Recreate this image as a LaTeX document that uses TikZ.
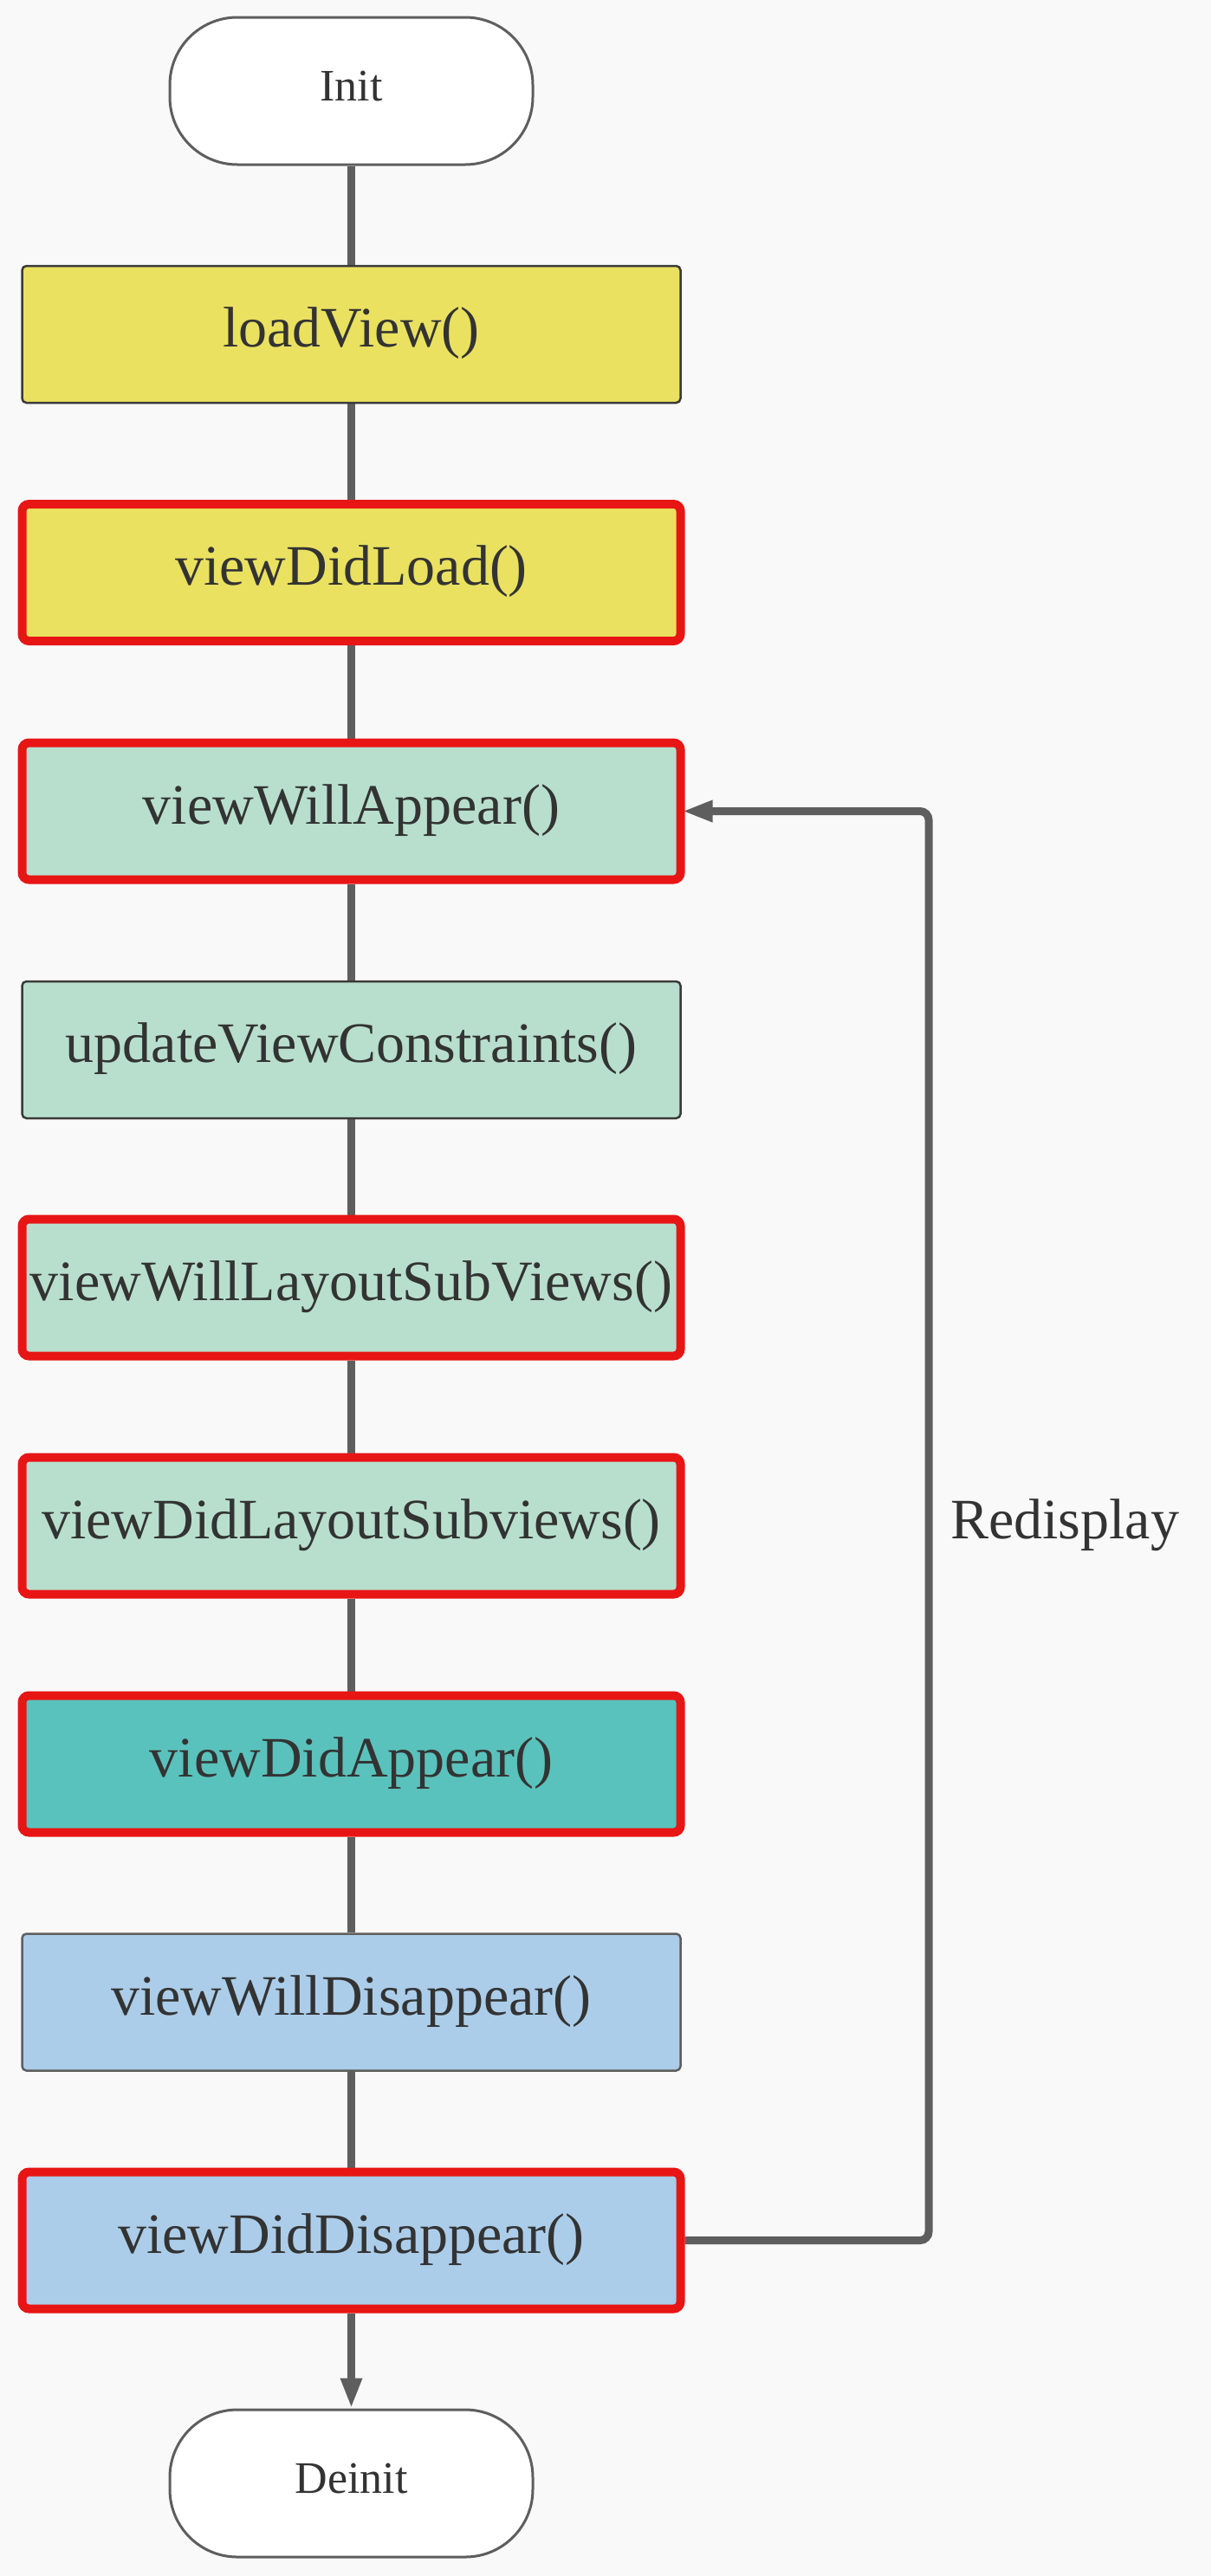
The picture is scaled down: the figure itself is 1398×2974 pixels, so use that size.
\documentclass[tikz,border=0pt]{standalone}
\usepackage{fontspec}
\setmainfont{Liberation Serif}
\usetikzlibrary{arrows.meta}
\pgfdeclarelayer{bgfill}
\pgfdeclarelayer{background}
\pgfsetlayers{bgfill,background,main}
\definecolor{bgc}{HTML}{F9F9F9}
\definecolor{linec}{HTML}{5E5E5E}
\definecolor{txtc}{HTML}{333333}
\definecolor{redc}{HTML}{E81515}
\definecolor{yellowc}{HTML}{EAE160}
\definecolor{greenc}{HTML}{B8DFCE}
\definecolor{tealc}{HTML}{5AC2BC}
\definecolor{bluec}{HTML}{ABCDE9}
\definecolor{thinc}{HTML}{3A3A3A}
\begin{document}
\begin{tikzpicture}[x=1pt,y=-1pt,
  terminal/.style={draw=linec, line width=3pt, fill=white, rounded corners=78pt,
    minimum width=419pt, minimum height=170pt, inner sep=0pt, text=txtc,
    font=\fontsize{52}{62}\selectfont, text height=34.3pt, text depth=11.4pt},
  stagebox/.style={minimum width=760pt, minimum height=158pt, inner sep=0pt, text=txtc,
    font=\fontsize{66}{79}\selectfont, text height=43.6pt, text depth=14.5pt},
  thinbox/.style={stagebox, draw=thinc, line width=2.5pt, rounded corners=5pt},
  redbox/.style={stagebox, draw=redc, line width=10pt, rounded corners=8pt},
  conn/.style={draw=linec, line width=9pt},
  tipc/.style={-{Triangle[length=35pt,width=23pt]}}
]
\begin{pgfonlayer}{bgfill}
  \fill[bgc] (0,0) rectangle (1398,2974);
\end{pgfonlayer}

\node[terminal] (init) at (405.5,105) {Init};
\node[thinbox, fill=yellowc] (lv) at (405.5,386) {loadView()};
\node[redbox, fill=yellowc] (vdl) at (405.5,661) {viewDidLoad()};
\node[redbox, fill=greenc] (vwa) at (405.5,936.5) {viewWillAppear()};
\node[thinbox, fill=greenc] (uvc) at (405.5,1212) {updateViewConstraints()};
\node[redbox, fill=greenc] (vwl) at (405.5,1486.5) {viewWillLayoutSubViews()};
\node[redbox, fill=greenc] (vdls) at (405.5,1761.5) {viewDidLayoutSubviews()};
\node[redbox, fill=tealc] (vda) at (405.5,2036.5) {viewDidAppear()};
\node[thinbox, draw=linec, fill=bluec] (vwd) at (405.5,2311.5) {viewWillDisappear()};
\node[redbox, fill=bluec] (vdd) at (405.5,2586.5) {viewDidDisappear()};
\node[terminal] (deinit) at (405.5,2867) {Deinit};

\node[anchor=base west, text=txtc, font=\fontsize{66}{79}\selectfont, inner sep=0pt]
  (redisp) at (1097,1776) {Redisplay};

\coordinate (rb) at (1072,2586.5);
\coordinate (rt) at (1072,936.5);

\begin{pgfonlayer}{background}
  \draw[conn] (init) -- (lv);
  \draw[conn] (lv) -- (vdl);
  \draw[conn] (vdl) -- (vwa);
  \draw[conn] (vwa) -- (uvc);
  \draw[conn] (uvc) -- (vwl);
  \draw[conn] (vwl) -- (vdls);
  \draw[conn] (vdls) -- (vda);
  \draw[conn] (vda) -- (vwd);
  \draw[conn] (vwd) -- (vdd);
  \draw[conn, tipc] (vdd) -- (deinit);
  \draw[conn, tipc, rounded corners=10pt, shorten >=-3pt] (vdd.east) -- (rb) -- (rt) -- (vwa.east);
\end{pgfonlayer}
\end{tikzpicture}
\end{document}
